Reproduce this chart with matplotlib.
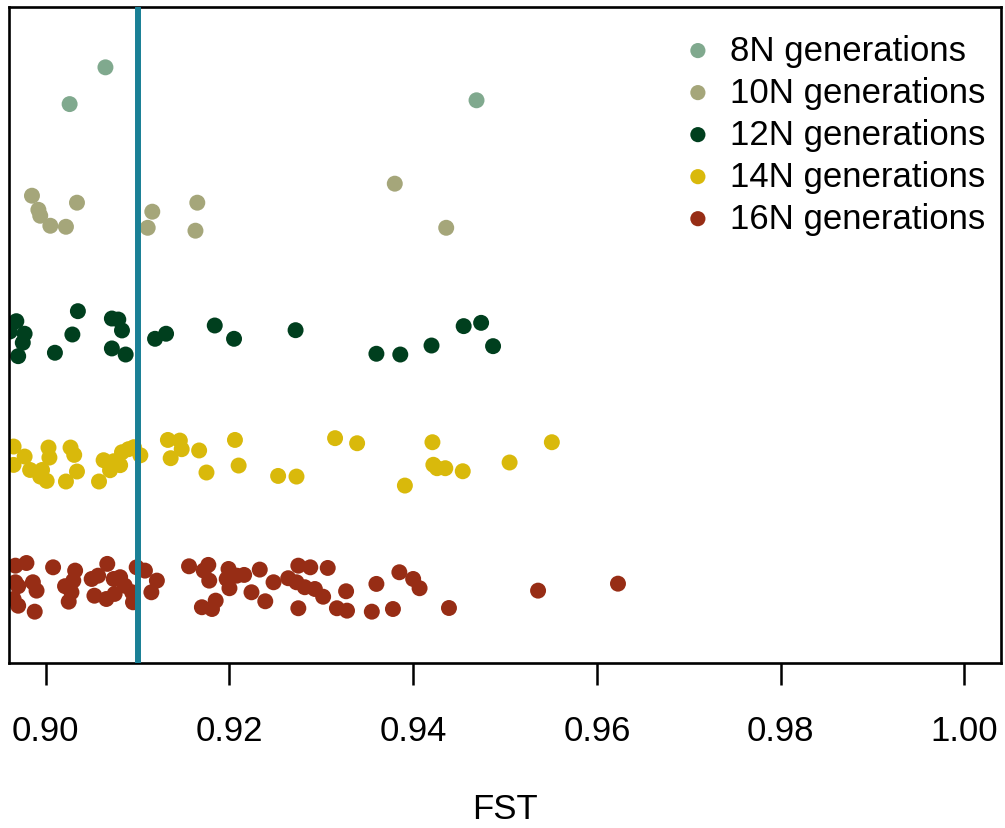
import matplotlib
matplotlib.use("Agg")
import matplotlib.pyplot as plt

plt.rcParams['font.family'] = ['Liberation Sans', 'DejaVu Sans']

labels = ["8N generations", "10N generations", "12N generations",
          "14N generations", "16N generations"]
colors = ["#80A98E", "#A5A67A", "#003F1E", "#D9B90B", "#972D15"]
levels = [5, 4, 3, 2, 1]

# FST values and the vertical jitter
fst_8n = [0.9065, 0.9026, 0.9469]
jit_8n = [0.10, -0.19, -0.16]

fst_10n = [0.8985, 0.8992, 0.8994, 0.9005, 0.9022, 0.9034,
           0.9116, 0.9111, 0.9165, 0.9163, 0.9380, 0.9436]
jit_10n = [0.087, -0.024, -0.071, -0.150, -0.158, 0.032,
           -0.039, -0.166, 0.032, -0.189, 0.182, -0.166]

fst_12n = [0.8968, 0.8961, 0.8977, 0.8975, 0.8970, 0.9035, 0.9029, 0.9010,
           0.9072, 0.9079, 0.9083, 0.9072, 0.9087, 0.9119, 0.9131, 0.9184,
           0.9205, 0.9272, 0.9360, 0.9386, 0.9420, 0.9455, 0.9474, 0.9487]
jit_12n = [0.097, 0.016, -0.002, -0.073, -0.179, 0.176, -0.008, -0.152,
           0.118, 0.110, 0.024, -0.118, -0.166, -0.042, -0.002, 0.063,
           -0.042, 0.026, -0.160, -0.166, -0.095, 0.058, 0.084, -0.100]

fst_14n = [0.8965, 0.8965, 0.8977, 0.8983, 0.9003, 0.9004, 0.8996, 0.8994,
           0.9001, 0.9027, 0.9031, 0.9034, 0.9022, 0.9058, 0.9063, 0.9070,
           0.9074, 0.9081, 0.9083, 0.9090, 0.9096, 0.9103, 0.9133, 0.9146,
           0.9148, 0.9167, 0.9136, 0.9175, 0.9206, 0.9210, 0.9253, 0.9273,
           0.9315, 0.9339, 0.9391, 0.9421, 0.9422, 0.9426, 0.9435, 0.9454,
           0.9505, 0.9551]
jit_14n = [0.108, -0.037, 0.029, -0.077, 0.100, 0.021, -0.077, -0.129,
           -0.163, 0.100, 0.042, -0.089, -0.168, -0.168, 0.0, -0.079,
           -0.008, -0.039, 0.063, 0.087, 0.103, 0.039, 0.160, 0.155,
           0.087, 0.077, 0.016, -0.097, 0.160, -0.042, -0.124, -0.129,
           0.174, 0.134, -0.200, 0.142, -0.036, -0.063, -0.063, -0.087,
           -0.018, 0.142]

fst_16n = [0.8967, 0.8979, 0.8967, 0.8970, 0.8986, 0.8990, 0.8965, 0.8970,
           0.8988, 0.9008, 0.9032, 0.9030, 0.9021, 0.9028, 0.9025, 0.9050,
           0.9057, 0.9053, 0.9067, 0.9074, 0.9081, 0.9066, 0.9075, 0.9086,
           0.9094, 0.9095, 0.9099, 0.9108, 0.9121, 0.9115, 0.9156, 0.9177,
           0.9172, 0.9178, 0.9199, 0.9197, 0.9200, 0.9208, 0.9170, 0.9181,
           0.9185, 0.9216, 0.9233, 0.9248, 0.9224, 0.9239, 0.9264, 0.9275,
           0.9288, 0.9307, 0.9273, 0.9282, 0.9293, 0.9302, 0.9275, 0.9327,
           0.9317, 0.9328, 0.9360, 0.9355, 0.9378, 0.9385, 0.9400, 0.9407,
           0.9439, 0.9536, 0.9623]
jit_16n = [0.168, 0.189, 0.037, 0.006, 0.037, -0.029, -0.095, -0.148,
           -0.195, 0.155, 0.129, 0.050, 0.006, -0.042, -0.116, 0.063,
           0.089, -0.069, 0.182, 0.063, 0.077, -0.095, -0.055, 0.010,
           -0.042, -0.121, 0.155, 0.129, 0.050, -0.042, 0.163, 0.174,
           0.129, 0.050, 0.142, 0.063, -0.010, 0.089, -0.160, -0.174,
           -0.108, 0.095, 0.137, 0.037, -0.042, -0.113, 0.069, 0.168,
           0.155, 0.150, 0.037, -0.002, -0.016, -0.077, -0.168, -0.034,
           -0.168, -0.187, 0.024, -0.195, -0.174, 0.116, 0.063, -0.010,
           -0.166, -0.029, 0.026]

fst_all = [fst_8n, fst_10n, fst_12n, fst_14n, fst_16n]
jit_all = [jit_8n, jit_10n, jit_12n, jit_14n, jit_16n]

threshold = 0.91
xticks = [0.90, 0.92, 0.94, 0.96, 0.98, 1.00]

fig = plt.figure(figsize=(10.05, 8.29), dpi=100)
ax = fig.add_axes([9 / 1005, 1 - 664 / 829, 992 / 1005, 656.5 / 829])

# draw the bottom group first, like stripchart does
for i in range(4, -1, -1):
    ys = [levels[i] + j for j in jit_all[i]]
    ax.scatter(fst_all[i], ys, s=132, color=colors[i], edgecolors='none',
               label=labels[i], zorder=2)

ax.axvline(threshold, color="#1A8096", linewidth=4.3, zorder=3)

ax.set_xlim(0.896, 1.004)
ax.set_ylim(0.40, 5.58)
ax.set_yticks([])
ax.set_xticks(xticks)
ax.set_xticklabels(["%.2f" % t for t in xticks])
ax.tick_params(axis='x', length=16, width=1.8, pad=21, labelsize=25)
for sp in ax.spines.values():
    sp.set_linewidth(1.9)
ax.set_xlabel("FST", fontsize=25, labelpad=32)

handles, labs = ax.get_legend_handles_labels()
order = [labs.index(l) for l in labels]
ax.legend([handles[k] for k in order], [labs[k] for k in order],
          loc='upper left', bbox_to_anchor=(684 / 1005, 1 - 34.7 / 829),
          bbox_transform=fig.transFigure, frameon=False, fontsize=25,
          borderpad=0, borderaxespad=0, handlelength=0.8,
          handletextpad=0.52, labelspacing=0.26, markerscale=0.95)

fig.savefig("out.png", dpi=100)
